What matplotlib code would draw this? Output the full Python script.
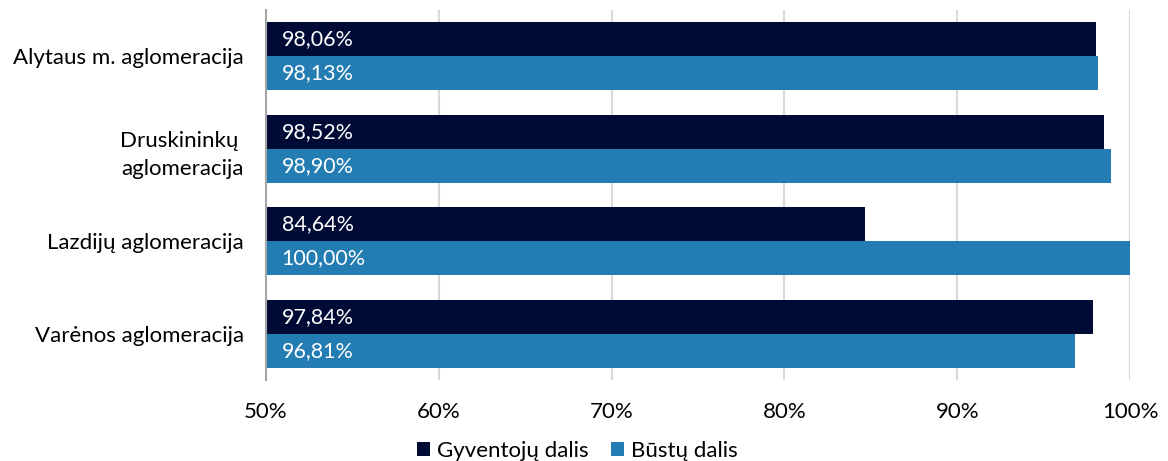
import matplotlib.pyplot as plt
import numpy as np

categories = ["Alytaus m. aglomeracija", "Druskininkų \naglomeracija", "Lazdijų aglomeracija", "Varėnos aglomeracija"]
gyventoju = [98.06, 98.52, 84.64, 97.84]
bustu = [98.13, 98.90, 100.00, 96.81]
series_names = ["Gyventojų dalis", "Būstų dalis"]
ticks = [50, 60, 70, 80, 90, 100]
tick_labels = ["50%", "60%", "70%", "80%", "90%", "100%"]

plt.rcParams['font.family'] = ['Lato', 'DejaVu Sans']
dark = "#000B35"
blue = "#237CB2"

fig = plt.figure(figsize=(11.68, 4.61), dpi=100)
ax = fig.add_axes([266/1168, 1-380/461, (1130-266)/1168, 370/461])

y = np.arange(len(categories))
h = 0.368
b1 = ax.barh(y - h/2, np.array(gyventoju) - 50, left=50, height=h, color=dark, label=series_names[0], zorder=3)
b2 = ax.barh(y + h/2, np.array(bustu) - 50, left=50, height=h, color=blue, label=series_names[1], zorder=3)

def fmt(v):
    return f"{v:.2f}".replace(".", ",") + "%"

for yy, v in zip(y - h/2, gyventoju):
    ax.text(50.9, yy, fmt(v), color="white", va="center", ha="left", fontsize=15.5, zorder=4)
for yy, v in zip(y + h/2, bustu):
    ax.text(50.9, yy, fmt(v), color="white", va="center", ha="left", fontsize=15.5, zorder=4)

ax.set_xlim(50, 100)
ax.set_ylim(len(categories) - 0.5, -0.5)
ax.set_xticks(ticks)
ax.set_xticklabels(tick_labels, fontsize=16)
ax.set_yticks(y)
ax.set_yticklabels(categories, fontsize=16, linespacing=1.5)
ax.tick_params(axis='both', length=0)
ax.tick_params(axis='x', pad=16)
ax.tick_params(axis='y', pad=16)
ax.grid(axis='x', color="#D9D9D9", linewidth=1.5, zorder=0)
for s in ["top", "right", "bottom"]:
    ax.spines[s].set_visible(False)
ax.spines["left"].set_color("#A6A6A6")
ax.spines["left"].set_linewidth(1.5)
ax.spines["left"].set_zorder(5)

fig.legend(handles=[b1, b2], labels=series_names, loc="center", bbox_to_anchor=(577/1168, 1-451/461),
           ncol=2, frameon=False, fontsize=16, handlelength=0.6, handleheight=0.6, handletextpad=0.3, columnspacing=1.0)

fig.savefig("out.png", dpi=100)
